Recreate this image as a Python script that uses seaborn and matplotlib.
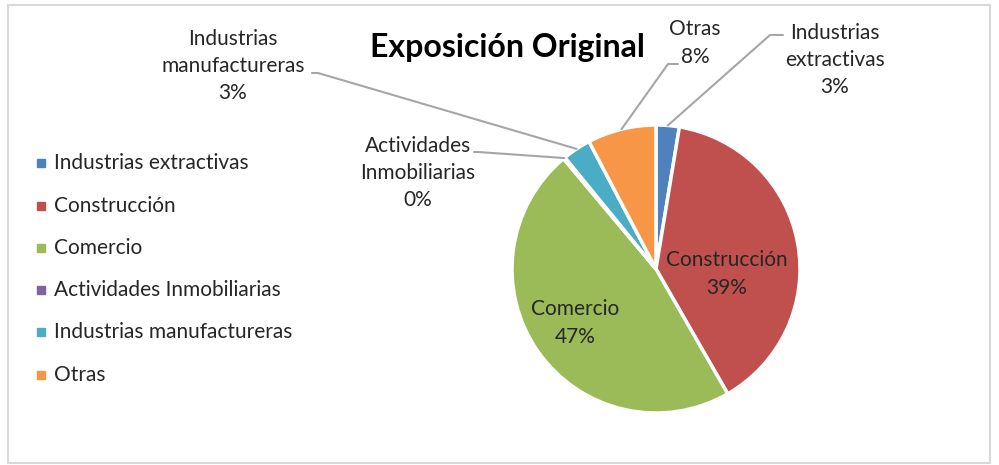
import matplotlib
matplotlib.use("Agg")
import matplotlib.pyplot as plt
import seaborn as sns
import numpy as np
from matplotlib.lines import Line2D
from matplotlib.patches import Rectangle

# datos
sectores = ["Industrias extractivas", "Construcción", "Comercio",
            "Actividades Inmobiliarias", "Industrias manufactureras", "Otras"]
porcentajes = [2.6, 39.1, 47.2, 0.2, 3.2, 7.7]
colores = ["#4F81BD", "#C0504D", "#9BBB59", "#8064A2", "#4BACC6", "#F79646"]
etiquetas_pie = ["Industrias\nextractivas", "Construcción", "Comercio",
                 "Actividades\nInmobiliarias", "Industrias\nmanufactureras", "Otras"]
titulo = "Exposición Original"

sns.set_theme(style="white")
plt.rcParams['font.family'] = ['Lato', 'DejaVu Sans']

W, H = 999, 465
fig = plt.figure(figsize=(W / 100, H / 100), dpi=100)


def px(x, y):
    # pixel (desde arriba) -> fracción de figura
    return x / W, 1 - y / H


# marco del gráfico
fig.patches.append(Rectangle(px(8, 463), (990 - 8) / W, (463 - 5) / H,
                             transform=fig.transFigure, fill=False,
                             edgecolor="#D9D9D9", linewidth=1.5))

# eje del pie
cx, cy, r = 656, 269, 144
ax = fig.add_axes([(cx - r) / W, (H - cy - r) / H, 2 * r / W, 2 * r / H])
wedges, _ = ax.pie(porcentajes, colors=colores, startangle=90, counterclock=False,
                   wedgeprops=dict(edgecolor="white", linewidth=2.5))
ax.set_xlim(-1, 1)
ax.set_ylim(-1, 1)
ax.set_aspect("auto")
ax.axis("off")

texto = "#262626"
tam = 15
interl = 1.45
fig.text(*px(507, 47), titulo, ha="center", va="center", fontsize=23,
         fontweight="bold", color="black")

# etiquetas internas
internas = {1: (727, 274), 2: (575, 323)}
for i, (x, y) in internas.items():
    fig.text(*px(x, y), f"{etiquetas_pie[i]}\n{round(porcentajes[i])}%",
             ha="center", va="center", fontsize=tam, color=texto, linespacing=interl)

# etiquetas externas con líneas guía
externas = {
    0: ((835, 60), (770, 35), (783, 35)),
    5: ((695, 43), (668, 64), (678, 64)),
    4: ((233, 66), (318, 73), (312, 73)),
    3: ((418, 173), (478, 152), (474, 152)),
}
fig.canvas.draw()
for i, (pos, codo, fin) in externas.items():
    w = wedges[i]
    ang = np.deg2rad((w.theta1 + w.theta2) / 2)
    xd, yd = ax.transData.transform((np.cos(ang), np.sin(ang)))
    inicio = fig.transFigure.inverted().transform((xd, yd))
    pts = [tuple(inicio), px(*codo), px(*fin)]
    fig.lines.append(Line2D([p[0] for p in pts], [p[1] for p in pts],
                            transform=fig.transFigure, color="#A6A6A6", linewidth=1.5))
    fig.text(*px(*pos), f"{etiquetas_pie[i]}\n{round(porcentajes[i])}%",
             ha="center", va="center", fontsize=tam, color=texto, linespacing=interl)

# leyenda
ys = [163, 206, 248, 290, 332, 375]
for s, c, y in zip(sectores, colores, ys):
    fig.patches.append(Rectangle(px(37, y + 4), 8 / W, 8 / H,
                                 transform=fig.transFigure, color=c))
    fig.text(*px(54, y), s, ha="left", va="center", fontsize=tam, color=texto)

fig.savefig("out.png", dpi=100, facecolor="white")
